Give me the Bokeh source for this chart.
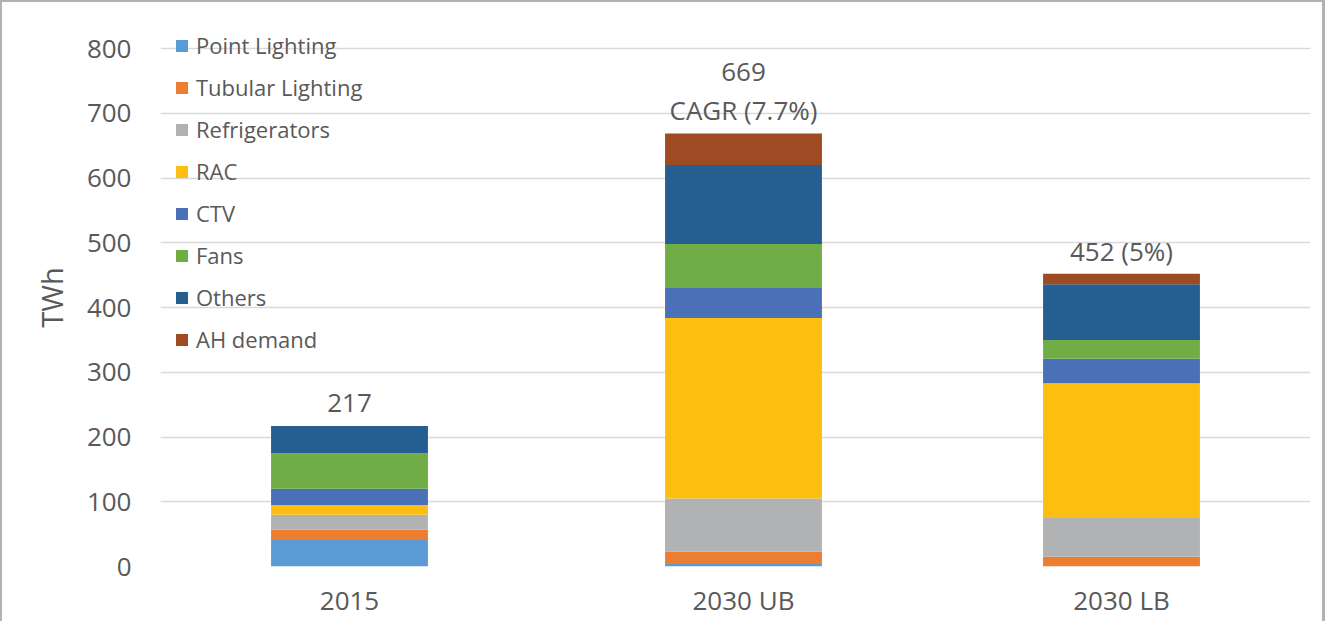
from bokeh.plotting import figure
from bokeh.models import FactorRange, Range1d, FixedTicker, ColumnDataSource
from bokeh.embed import file_html
from bokeh.resources import INLINE
from bokeh.core.properties import value

# ---------------- data ----------------
categories = ["2015", "2030 UB", "2030 LB"]
groups = ["now", "future", "future"]          # hidden grouping level of the axis

series_names = ["Point Lighting", "Tubular Lighting", "Refrigerators", "RAC",
                "CTV", "Fans", "Others", "AH demand"]
point_lighting   = [41, 4, 0]
tubular_lighting = [16, 19, 15]
refrigerators    = [23, 82, 60]
rac              = [15, 279, 208]
ctv              = [25, 46, 38]
fans             = [55, 68, 29]
others           = [42, 122, 86]
ah_demand        = [0, 49, 16]

value_line  = ["", "669", ""]
growth_line = ["217", "CAGR (7.7%)", "452 (5%)"]

y_ticks = [0, 100, 200, 300, 400, 500, 600, 700, 800]

colors = ["#5B9BD5", "#ED7D31", "#B1B2B4", "#FCBF11",
          "#4A70B8", "#70AD47", "#255E91", "#9E4A22"]

# ---------------- build ----------------
FONT = "Open Sans"
TXT = "#595959"

keys = ["point_lighting", "tubular_lighting", "refrigerators", "rac",
        "ctv", "fans", "others", "ah_demand"]
cols = [point_lighting, tubular_lighting, refrigerators, rac, ctv, fans, others, ah_demand]
factors = list(zip(groups, categories))
data = {"x": factors}
for k, c in zip(keys, cols):
    data[k] = c
totals = [sum(v) for v in zip(*cols)]
data["total"] = totals
data["value_line"] = value_line
data["growth_line"] = growth_line
source = ColumnDataSource(data)

p = figure(
    x_range=FactorRange(*factors, group_padding=0.0423, range_padding=0, factor_padding=0),
    y_range=Range1d(0, 831),
    frame_width=1150, frame_height=538,
    min_border_left=158, min_border_right=12, min_border_top=26, min_border_bottom=55,
    output_backend="svg", toolbar_location=None,
)
p.styles = {"border-top": "2px solid #B2B2B2", "border-left": "2px solid #B2B2B2",
            "border-right": "3px solid #B2B2B2"}
p.outline_line_color = None
p.background_fill_color = "white"
p.border_fill_color = "white"

p.vbar_stack(keys, x="x", width=0.415, source=source, fill_color=colors,
             line_color=None, legend_label=series_names)

p.text(x="x", y="total", text="growth_line", source=source, y_offset=-23,
       text_align="center", text_baseline="alphabetic",
       text_font=value(FONT), text_font_size="26px", text_color=TXT)
p.text(x="x", y="total", text="value_line", source=source, y_offset=-61,
       text_align="center", text_baseline="alphabetic",
       text_font=value(FONT), text_font_size="26px", text_color=TXT)

# grid
p.xgrid.grid_line_color = None
p.ygrid.grid_line_color = "#D9D9D9"
p.ygrid.grid_line_width = 1.5
p.yaxis.ticker = FixedTicker(ticks=y_ticks)

# y axis
ya = p.yaxis[0]
ya.axis_line_color = None
ya.major_tick_line_color = None
ya.minor_tick_line_color = None
ya.major_tick_out = 0
ya.major_label_standoff = 29
ya.major_label_text_font = FONT
ya.major_label_text_font_size = "26px"
ya.major_label_text_color = TXT
ya.axis_label = "TWh"
ya.axis_label_text_font = FONT
ya.axis_label_text_font_size = "29px"
ya.axis_label_text_font_style = "normal"
ya.axis_label_text_color = TXT
ya.axis_label_standoff = 13

# x axis
xa = p.xaxis[0]
xa.axis_line_color = None
xa.major_tick_line_color = None
xa.minor_tick_line_color = None
xa.major_tick_out = 0
xa.major_label_standoff = 15
xa.major_label_text_font = FONT
xa.major_label_text_font_size = "26px"
xa.major_label_text_color = TXT
xa.group_text_color = None
xa.group_text_font_size = "1px"
xa.separator_line_color = None

# legend
lg = p.legend[0]
lg.location = (14, 212)
lg.padding = 0
lg.margin = 0
lg.spacing = 12
lg.label_height = 30
lg.glyph_height = 15
lg.glyph_width = 15
lg.label_standoff = 7
lg.border_line_color = None
lg.background_fill_alpha = 0
lg.label_text_font = FONT
lg.label_text_font_size = "22px"
lg.label_text_color = TXT

open("out.html", "w").write(file_html(p, INLINE))
